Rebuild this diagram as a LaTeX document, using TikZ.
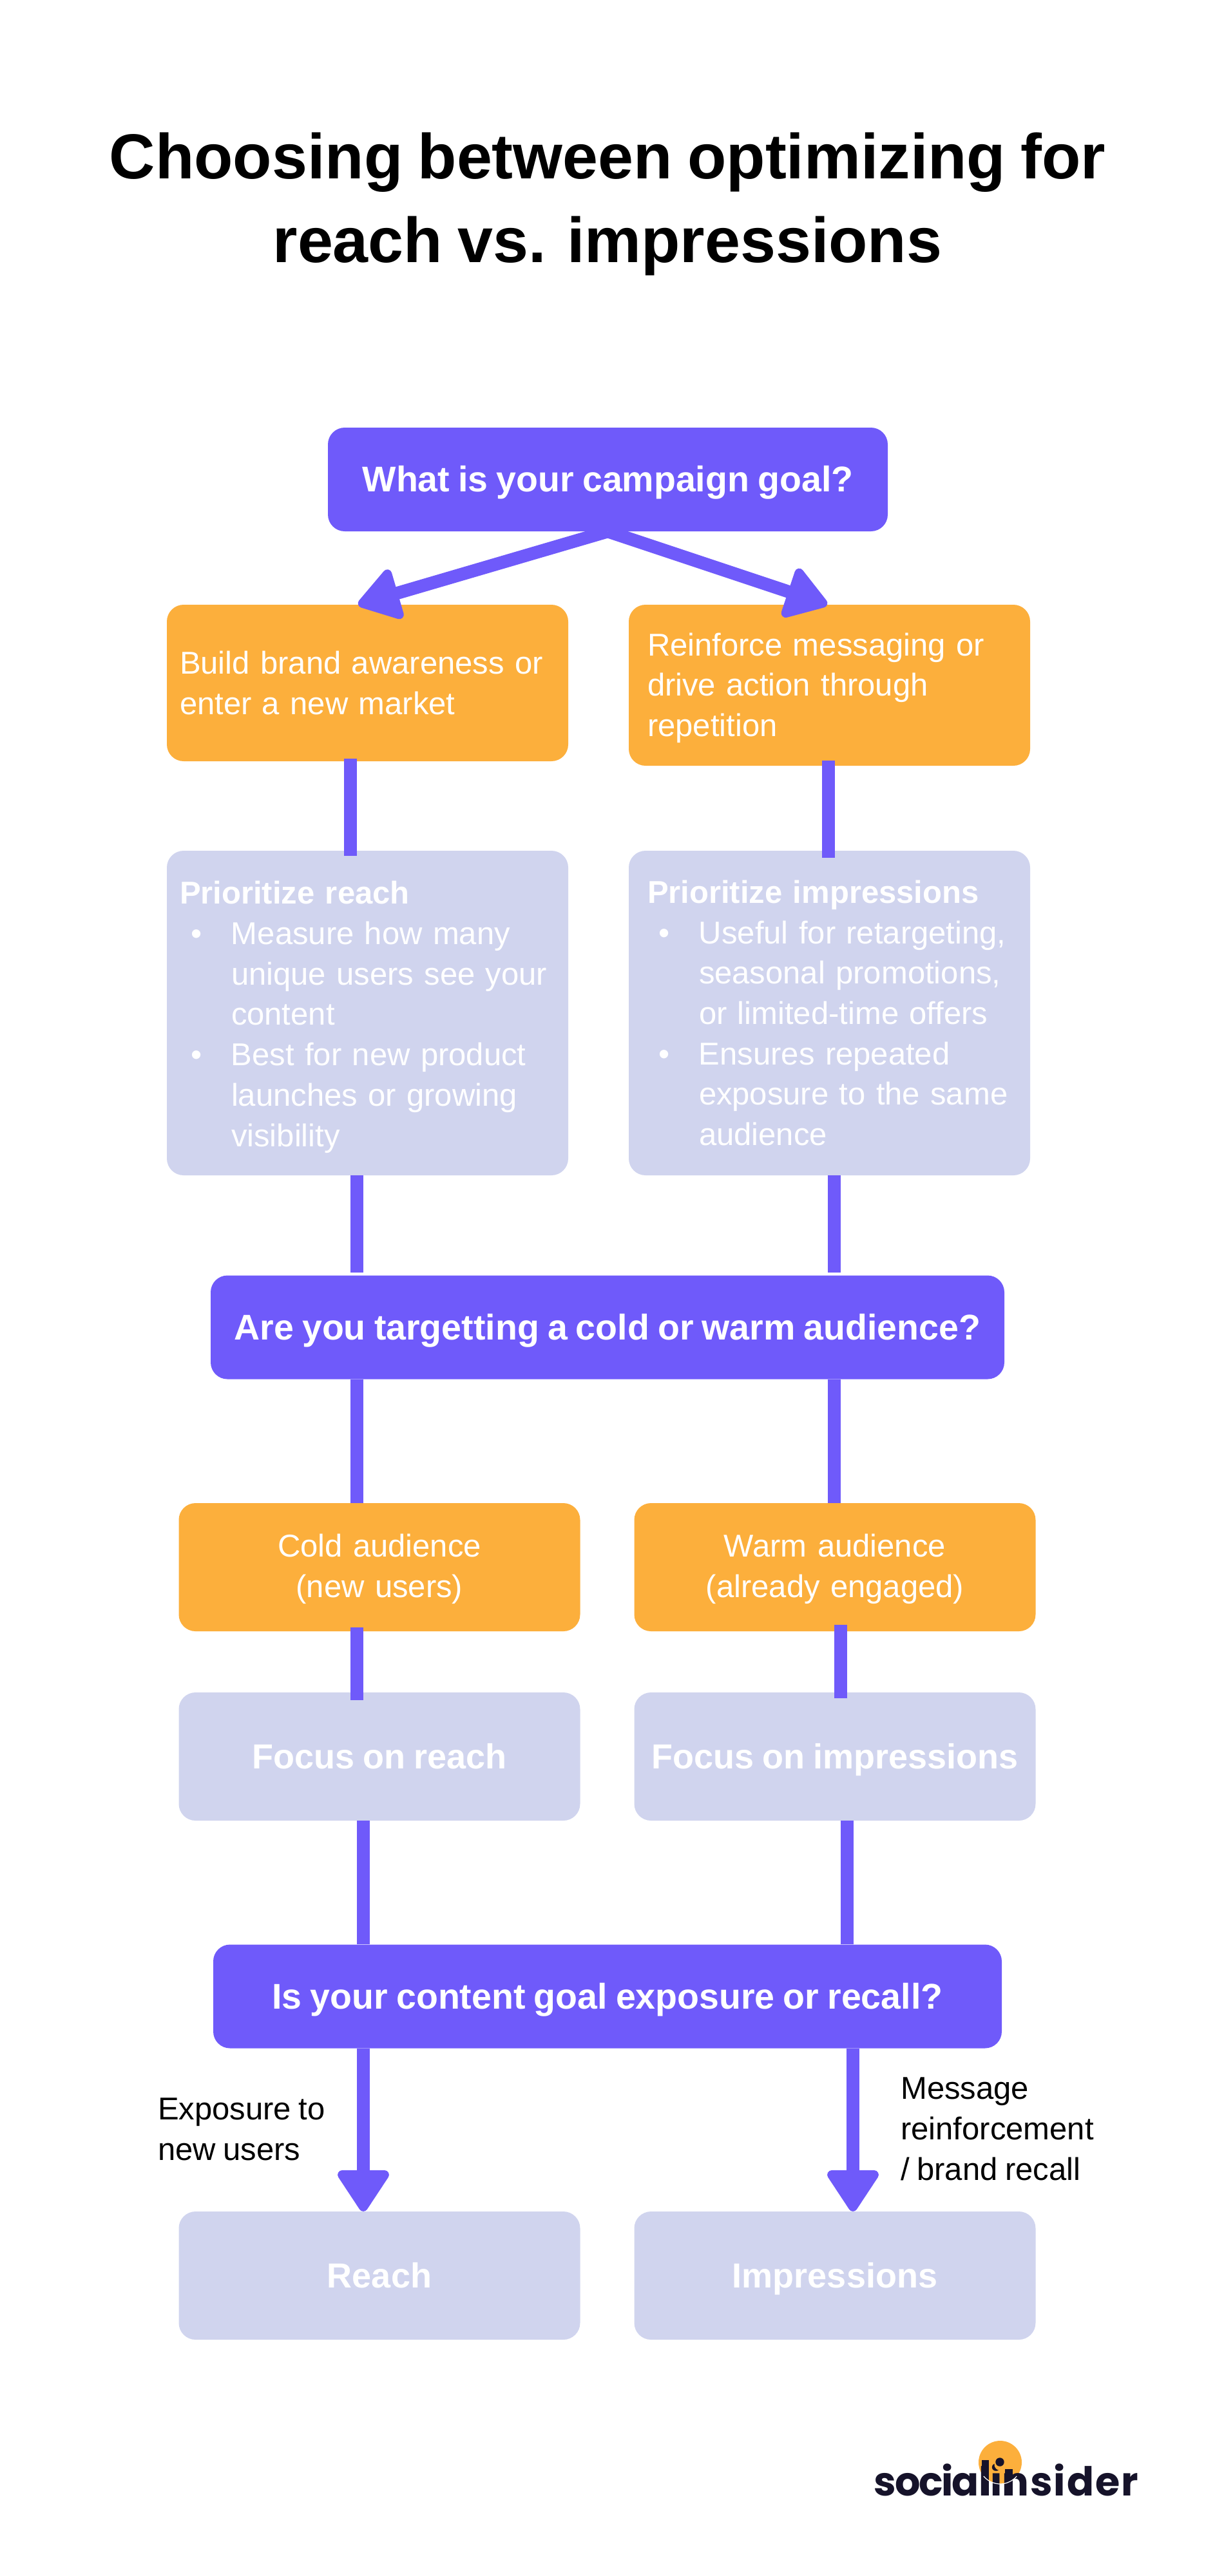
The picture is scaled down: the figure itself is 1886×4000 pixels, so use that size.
\documentclass[tikz,border=0pt]{standalone}
\usepackage{fontspec}
\setmainfont[WordSpace=0.85]{Liberation Sans}
\newfontfamily\logofont{Poppins}
\usetikzlibrary{arrows.meta}
\definecolor{plum}{RGB}{111,90,250}
\definecolor{amber}{RGB}{252,175,60}
\definecolor{haze}{RGB}{208,212,238}
\definecolor{ink}{RGB}{22,19,42}
\newcommand{\bodyfont}{\fontsize{49}{62.7}\selectfont}
\newcommand{\headfont}{\fontsize{54}{62.7}\selectfont\bfseries}
\newcommand{\askfont}{\fontsize{55.5}{62.7}\selectfont\bfseries}
\newcommand{\pointitem}[1]{\par{\leftskip=80pt\relax\noindent\llap{\textbullet\hspace{45pt}}#1\par}}
\newcommand{\logobar}[1]{\rlap{\hspace{4.6pt}\rule{11.5pt}{#1}}}
\tikzset{
    question/.style={fill=plum,text=white,rounded corners=26pt,inner sep=0pt,font=\askfont,align=center,minimum height=161,oneline},
    choice/.style={fill=amber,text=white,rounded corners=26pt,inner sep=0pt,font=\bodyfont,minimum width=623},
    result/.style={fill=haze,text=white,rounded corners=26pt,inner sep=0pt,minimum width=623},
    oneline/.style={text height=49pt,text depth=11pt},
    link/.style={plum,line width=20pt},
    flow/.style={link,-{Triangle[width=88pt,length=70pt,line width=14pt,round]}},
    note/.style={text=black,inner sep=0pt,font=\bodyfont,align=left,anchor=west}
}
\begin{document}
\begin{tikzpicture}[x=1pt,y=-1pt]
    \useasboundingbox (0,0) rectangle (1886,4000);
    \node[inner sep=0pt,align=center,font=\fontsize{98.8}{130}\selectfont\bfseries] (title) at (943,317) {Choosing between optimizing for\\reach vs. impressions};

    % first decision
    \node[question,minimum width=869] (goal) at (943.5,744.5) {What is your campaign goal?};
    \node[choice,minimum height=243,text width=583,align=left] (build) at (570.5,1060.5) {Build brand awareness or\\enter a new market};
    \node[choice,minimum height=250,text width=565,align=left] (repeat) at (1287.5,1064) {\rule{0pt}{44pt}Reinforce messaging or\\drive action through\\repetition};
    \node[result,minimum height=504,text width=583,align=left,font=\bodyfont] (preach) at (570.5,1573) {\rule{0pt}{48pt}{\bfseries Prioritize reach}
        \pointitem{Measure how many\\unique users see your\\content}
        \pointitem{Best for new product\\launches or growing\\visibility}};
    \node[result,minimum height=504,text width=565,align=left,font=\bodyfont] (pimpr) at (1287.5,1573) {{\bfseries Prioritize impressions}
        \pointitem{Useful for retargeting,\\seasonal promotions,\\or limited-time offers}
        \pointitem{Ensures repeated\\exposure to the same\\audience}};

    % second decision
    \node[question,minimum width=1232] (audience) at (943,2061) {Are you targetting a cold or warm audience?};
    \node[choice,minimum height=199,text width=623,align=center] (cold) at (589,2433.5) {\rule{0pt}{41pt}Cold audience\\(new users)};
    \node[choice,minimum height=199,text width=623,align=center] (warm) at (1296,2433.5) {\rule{0pt}{41pt}Warm audience\\(already engaged)};
    \node[result,minimum height=199,font=\headfont,oneline] (freach) at (589,2727.5) {Focus on reach};
    \node[result,minimum height=199,font=\headfont,oneline] (fimpr) at (1296,2727.5) {Focus on impressions};

    % third decision
    \node[question,minimum width=1224] (content) at (943,3100) {Is your content goal exposure or recall?};
    \node[result,minimum height=199,font=\headfont,oneline] (reach) at (589,3533.5) {Reach};
    \node[result,minimum height=199,font=\headfont,oneline] (impr) at (1296,3533.5) {Impressions};
    \node[note] (lreach) at (245,3306) {Exposure to\\new users};
    \node[note] (limpr) at (1398,3306) {Message\\reinforcement\\/ brand recall};

    % connector columns
    \coordinate (tipa) at (556,0);
    \coordinate (tipb) at (1284,0);
    \coordinate (xa) at (544,0);
    \coordinate (xb) at (1286,0);
    \coordinate (xc) at (553.5,0);
    \coordinate (xd) at (1295,0);
    \coordinate (xe) at (1305,0);
    \coordinate (xf) at (564,0);
    \coordinate (xg) at (1315,0);
    \coordinate (xh) at (1324,0);

    \draw[flow] (goal.south) -- (build.north -| tipa);
    \draw[flow] (goal.south) -- (repeat.north -| tipb);
    \draw[link,shorten <=-4pt,shorten >=-8pt] (build.south -| xa) -- (preach.north -| xa);
    \draw[link,shorten <=-8pt,shorten >=-11pt] (repeat.south -| xb) -- (pimpr.north -| xb);
    \draw[link,shorten >=4pt] (preach.south -| xc) -- (audience.north -| xc);
    \draw[link,shorten >=4pt] (pimpr.south -| xd) -- (audience.north -| xd);
    \draw[link] (audience.south -| xc) -- (cold.north -| xc);
    \draw[link] (audience.south -| xd) -- (warm.north -| xd);
    \draw[link,shorten <=-6pt,shorten >=-12pt] (cold.south -| xc) -- (freach.north -| xc);
    \draw[link,shorten <=-10pt,shorten >=-9pt] (warm.south -| xe) -- (fimpr.north -| xe);
    \draw[link] (freach.south -| xf) -- (content.north -| xf);
    \draw[link] (fimpr.south -| xg) -- (content.north -| xg);
    \draw[flow] (content.south -| xf) -- (reach.north -| xf);
    \draw[flow] (content.south -| xh) -- (impr.north -| xh);

    % logo
    \fill[amber] (1552.5,3823.5) circle (33.5);
    \node[inner sep=0pt,anchor=base,text=ink,font=\fontsize{62}{62}\logofont\bfseries] (logo) at (1562,3875) {{\addfontfeature{LetterSpace=-4}socia}\logobar{55pt}li\logobar{41pt}{\addfontfeature{LetterSpace=3.2}nsider}};
    \fill[amber] (1552.5,3827) circle (9);
    \fill[ink] (1552,3823) circle (6.7);
    \draw[white,line width=1.2pt] (1552.5,3823.5) ++(140:33.5) arc (140:40:33.5);
\end{tikzpicture}
\end{document}
